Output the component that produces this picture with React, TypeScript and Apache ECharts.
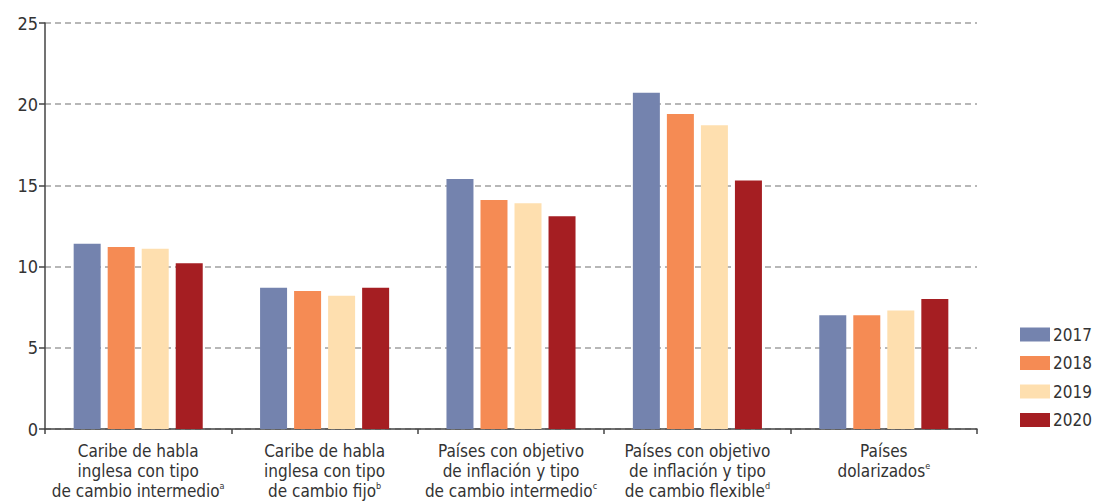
import React, { useEffect, useRef } from "react";
import * as echarts from "echarts";

const categories = [
  ["Caribe de habla", "inglesa con tipo", "de cambio intermedio", "a"],
  ["Caribe de habla", "inglesa con tipo", "de cambio fijo", "b"],
  ["Países con objetivo", "de inflación y tipo", "de cambio intermedio", "c"],
  ["Países con objetivo", "de inflación y tipo", "de cambio flexible", "d"],
  ["Países", "dolarizados", "e"],
];
const years = ["2017", "2018", "2019", "2020"];
const v2017 = [11.4, 8.7, 15.4, 20.7, 7.0];
const v2018 = [11.2, 8.5, 14.1, 19.4, 7.0];
const v2019 = [11.1, 8.2, 13.9, 18.7, 7.3];
const v2020 = [10.2, 8.7, 13.1, 15.3, 8.0];
const colors = ["#7483AE", "#F58B54", "#FEDFAF", "#A51E22"];

const FONT = "'Liberation Sans Narrow', 'DejaVu Sans Condensed', Roboto, sans-serif";

export default function App() {
  const ref = useRef<HTMLDivElement>(null);
  useEffect(() => {
    if (!ref.current) return;
    const chart = echarts.init(ref.current, undefined, { renderer: "svg" });
    const catKeys = categories.map((_, i) => String(i));
    const values = [v2017, v2018, v2019, v2020];
    chart.setOption({
      animation: false,
      textStyle: { fontFamily: FONT },
      legend: {
        orient: "vertical",
        left: 1015,
        top: 321,
        itemWidth: 30,
        itemHeight: 14,
        itemGap: 11.5,
        icon: "rect",
        textStyle: { fontFamily: FONT, fontSize: 17, lineHeight: 14, color: "#333", padding: [0, 0, 0, -2] },
        data: years,
      },
      grid: { left: 45, right: 116, top: 23, bottom: 72, containLabel: false },
      xAxis: {
        type: "category",
        data: catKeys,
        axisLine: { lineStyle: { color: "#444", width: 1.5 } },
        axisTick: { show: true, length: 5, lineStyle: { color: "#444", width: 1.5 } },
        axisLabel: {
          interval: 0,
          margin: 12,
          formatter: (val: string) => {
            const c = categories[Number(val)];
            const lines = c.slice(0, c.length - 1);
            const sup = c[c.length - 1];
            return lines
              .map((l, i) => (i === lines.length - 1 ? `{t|${l}}{s|${sup}}` : `{t|${l}}`))
              .join("\n");
          },
          rich: {
            t: { fontFamily: FONT, fontSize: 17, lineHeight: 20, color: "#333" },
            s: { fontFamily: FONT, fontSize: 9, lineHeight: 20, verticalAlign: "top", color: "#333" },
          },
        },
      },
      yAxis: {
        type: "value",
        min: 0,
        max: 25,
        interval: 5,
        axisLine: { show: true, lineStyle: { color: "#444", width: 1.5 } },
        axisTick: { show: true, length: 6, lineStyle: { color: "#444", width: 1.5 } },
        axisLabel: { fontFamily: FONT, fontSize: 18, color: "#333", margin: 7 },
        splitLine: { lineStyle: { color: "#a0a0a0", width: 1.5, type: [6, 4] } },
      },
      series: years.map((y, i) => ({
        name: y,
        type: "bar",
        data: values[i],
        barWidth: 27,
        barGap: "26%",
        itemStyle: { color: colors[i] },
      })),
    });
    return () => chart.dispose();
  }, []);
  return (
    <div
      ref={ref}
      style={{ position: "fixed", left: 0, top: 0, width: 1093, height: 501, background: "#fff" }}
    />
  );
}
